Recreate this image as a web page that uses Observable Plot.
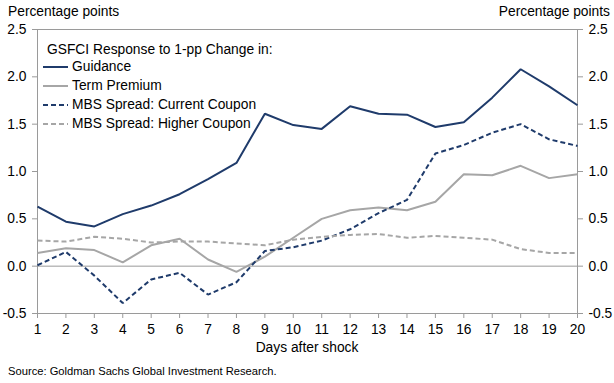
<!DOCTYPE html>
<html><head><meta charset="utf-8">
<script src="https://cdn.jsdelivr.net/npm/d3@7"></script>
<script src="https://cdn.jsdelivr.net/npm/@observablehq/plot@0.6"></script>
<style>
body{margin:0;background:#fff;font-family:"Liberation Sans",Arial,sans-serif;}
#wrap{position:relative;width:614px;height:383px;overflow:hidden;}
.t{position:absolute;font-size:13.8px;color:#000;white-space:nowrap;line-height:1;}
#legend{position:absolute;left:43px;top:42px;font-size:13.8px;line-height:1;}
#legend .row{display:flex;align-items:center;height:19px;}
#legend .title{display:flex;align-items:center;height:15px;padding-left:4px;}
#legend svg{display:block;margin-right:4px;}
</style></head><body><div id="wrap"></div>
<script>
const days = [1,2,3,4,5,6,7,8,9,10,11,12,13,14,15,16,17,18,19,20];
const guidance    = [0.63,0.47,0.42,0.55,0.64,0.76,0.92,1.09,1.61,1.49,1.45,1.69,1.61,1.60,1.47,1.52,1.78,2.08,1.90,1.70];
const termPremium = [0.14,0.19,0.17,0.04,0.22,0.29,0.07,-0.06,0.10,0.30,0.50,0.59,0.62,0.59,0.68,0.97,0.96,1.06,0.93,0.97];
const mbsCurrent  = [0.01,0.15,-0.10,-0.39,-0.14,-0.07,-0.30,-0.17,0.16,0.20,0.27,0.39,0.56,0.70,1.19,1.28,1.41,1.50,1.34,1.27];
const mbsHigher   = [0.27,0.26,0.31,0.29,0.25,0.26,0.26,0.24,0.22,0.28,0.31,0.33,0.34,0.30,0.32,0.30,0.28,0.18,0.14,0.14];
const yTicks = [-0.5,0,0.5,1.0,1.5,2.0,2.5];
const seriesNames = ["Guidance","Term Premium","MBS Spread: Current Coupon","MBS Spread: Higher Coupon"];
const legendTitle = "GSFCI Response to 1-pp Change in:";
const unitLabel = "Percentage points";
const xLabel = "Days after shock";
const source = "Source: Goldman Sachs Global Investment Research.";

const NAVY = "#1f3b6b", GRAY = "#a6a6a6", AXIS = "#9a9a9a";
const styles = [
  {stroke:NAVY, dash:null},
  {stroke:GRAY, dash:null},
  {stroke:NAVY, dash:"5,3"},
  {stroke:GRAY, dash:"5,3"}
];
const seriesValues = [guidance, termPremium, mbsCurrent, mbsHigher];
const fmt = v => v.toFixed(1);

const lineMarks = seriesValues.map((vals, i) =>
  Plot.line(days.map((d, j) => ({day: d, v: vals[j]})), {
    x: "day", y: "v", stroke: styles[i].stroke, strokeWidth: 2,
    strokeDasharray: styles[i].dash, strokeLinejoin: "miter", strokeLinecap: "butt"
  })
);

const chart = Plot.plot({
  width: 614, height: 383,
  marginLeft: 37, marginRight: 37, marginTop: 29, marginBottom: 70,
  style: {fontFamily: '"Liberation Sans", Arial, sans-serif', fontSize: "13.8px", color: "#000", background: "#fff"},
  x: {domain: [1, 20]},
  y: {domain: [-0.5, 2.5]},
  marks: [
    Plot.ruleY([0], {stroke: AXIS, strokeWidth: 1}),
    Plot.frame({stroke: AXIS, strokeWidth: 1}),
    Plot.axisY({anchor: "left", ticks: yTicks, tickFormat: fmt, tickSize: 5, tickPadding: 6, label: null, stroke: AXIS, fill: "#000"}),
    Plot.axisY({anchor: "right", ticks: yTicks, tickFormat: fmt, tickSize: 5, tickPadding: 6, label: null, stroke: AXIS, fill: "#000"}),
    Plot.axisX({ticks: days, tickFormat: d => String(d), tickSize: 5, tickPadding: 6, label: null, stroke: AXIS, fill: "#000"}),
    ...lineMarks
  ]
});
const wrap = document.getElementById("wrap");
wrap.appendChild(chart);

function addText(txt, css) {
  const el = document.createElement("div");
  el.className = "t"; el.textContent = txt;
  Object.assign(el.style, css);
  wrap.appendChild(el);
  return el;
}
addText(unitLabel, {left: "8px", top: "5px"});
addText(unitLabel, {right: "4px", top: "5px"});
addText(xLabel, {left: "0", width: "614px", textAlign: "center", top: "341px"});
addText(source, {left: "8px", top: "366px", fontSize: "11.2px"});

const lg = document.createElement("div");
lg.id = "legend";
const title = document.createElement("div");
title.className = "title"; title.textContent = legendTitle;
lg.appendChild(title);
seriesNames.forEach((name, i) => {
  const row = document.createElement("div"); row.className = "row";
  const s = d3.create("svg").attr("width", 25).attr("height", 6);
  s.append("line").attr("x1", 0).attr("x2", 25).attr("y1", 3).attr("y2", 3)
    .attr("stroke", styles[i].stroke).attr("stroke-width", 2)
    .attr("stroke-dasharray", styles[i].dash);
  row.appendChild(s.node());
  const sp = document.createElement("span"); sp.textContent = name;
  row.appendChild(sp);
  lg.appendChild(row);
});
wrap.appendChild(lg);
</script></body></html>
